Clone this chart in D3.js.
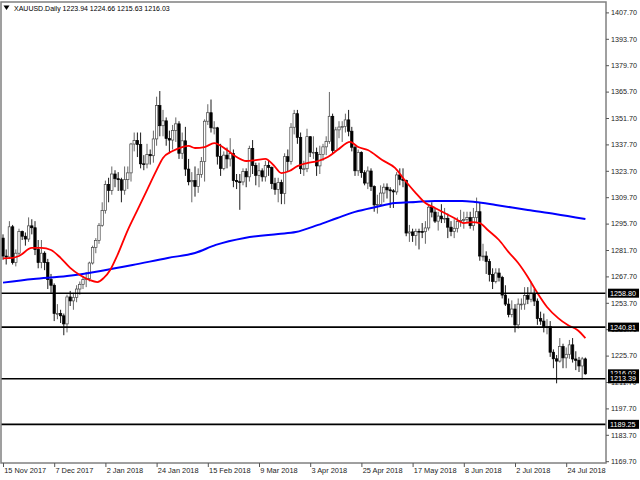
<!DOCTYPE html>
<html><head><meta charset="utf-8">
<script src="https://cdn.jsdelivr.net/npm/d3@7"></script>
<style>body{margin:0;background:#fff}svg{display:block}text{font-family:"Liberation Sans",Arial,sans-serif}</style>
</head><body><svg id="c" width="640" height="480"></svg>
<script>
const symbolTitle = "XAUUSD.Daily";
const lastBar = [1223.94, 1224.66, 1215.63, 1216.03];
const tickIdx = [0,16,32,48,64,80,96,112,128,144,160,176];
const tickLabels = ["15 Nov 2017","7 Dec 2017","2 Jan 2018","24 Jan 2018","15 Feb 2018","9 Mar 2018","3 Apr 2018","25 Apr 2018","17 May 2018","8 Jun 2018","2 Jul 2018","24 Jul 2018"];
const priceTicks = [1407.70,1393.70,1379.70,1365.70,1351.70,1337.70,1323.70,1309.70,1295.70,1281.70,1267.70,1253.70,1239.70,1225.70,1211.70,1197.70,1183.70,1169.70];
const levels = [1258.80,1240.81,1213.39,1189.25];
const lastPrice = 1216.03;

const opens = [1288,1278.5,1278,1294,1275,1280,1291.5,1289,1287.5,1294.5,1293.5,1282,1275,1280,1275,1266,1263,1248,1248,1246.8,1242.5,1256.8,1254.7,1256.6,1261,1263.5,1266,1266.5,1274.8,1283,1286.8,1294.8,1302.6,1316.5,1313.3,1322,1319.5,1319,1313.4,1319,1322.6,1337.9,1339.7,1337.6,1327.4,1327.3,1332.3,1331.7,1340.6,1358.3,1347.6,1350.2,1340.8,1340,1345.1,1348.6,1333,1339.6,1324.6,1317.9,1318.6,1315.4,1321.8,1328.6,1350,1354.5,1346.5,1346.5,1331.4,1325,1332,1330,1332.8,1318.5,1317.9,1317.8,1323.3,1320.5,1335.5,1326.5,1321.3,1323.7,1320.5,1326.6,1325.5,1316.9,1313.8,1317.5,1311.6,1331.2,1328.6,1346.8,1354,1341.4,1324.8,1324.8,1341.8,1333.5,1333.5,1326.3,1332.3,1336.4,1339.2,1352.6,1334.5,1345.4,1346.9,1347.2,1350.7,1344.7,1336.2,1323.7,1333.5,1322.7,1317.2,1323.6,1315.3,1305.6,1305.9,1311.9,1315,1313.6,1313.1,1312.5,1321.5,1319.2,1318.6,1290.7,1291.3,1289.4,1291.6,1291.5,1291.4,1293.4,1304.4,1301.8,1297,1299.7,1298.2,1298.5,1293.8,1291.5,1293.2,1296.9,1297.4,1297.9,1298.9,1294.6,1298.9,1302,1278.5,1278.5,1275.6,1268.7,1265,1269.5,1267.2,1257.8,1253,1247.5,1250.4,1242,1253,1253,1257.5,1255.6,1258.6,1254.6,1245.3,1244,1240.7,1241.2,1227.5,1224,1222.8,1230.5,1224.5,1226.4,1231.4,1223.9,1223.2,1220.2,1223.94];
const highs = [1290,1282,1297,1295,1282,1293,1292,1291,1299,1298,1297,1287,1287,1281,1277,1269,1264,1253,1250,1248,1258,1260,1259,1263,1265,1268,1270,1275.5,1284,1288,1296,1307,1318.5,1320,1326,1324,1323,1320,1326,1326,1338.5,1344,1344,1344,1332,1338,1335,1345,1363,1366,1356,1352,1345,1348,1352,1350,1344,1347,1330,1323,1326,1325,1331,1351,1359,1361.5,1350,1347,1338,1334,1336,1341,1335,1322,1322,1325,1325,1337,1340,1328,1328,1325,1329,1329,1326,1320,1320,1319,1333,1335,1349,1356,1356,1344,1329,1346,1342,1342,1336,1337,1338,1342,1365.5,1354,1347,1350,1350,1354,1356,1347,1337,1335,1334,1324,1326,1325,1316,1311,1316,1317,1317,1315,1314,1323,1325,1325,1319,1295,1293,1293,1293,1296,1297,1306,1307,1304,1302,1306,1304,1301,1297,1298,1299,1303,1302,1302,1302,1304,1309.5,1307,1285,1281,1277,1272,1272,1272,1268,1263,1256,1255,1253,1256,1256,1262,1262,1265,1261,1256,1249,1248,1245,1244,1229,1226,1235,1232,1230,1234,1235,1228,1225,1225,1224.66];
const lows = [1276.5,1274,1277,1274,1273,1279,1287,1284,1286,1290,1279,1272,1272,1271,1261,1259,1244,1245,1243,1236.5,1238,1252,1250,1254,1258,1261,1262,1265,1274,1280,1285,1294,1301,1307,1311,1315,1313,1307,1311,1314,1318,1334,1331,1325,1324,1325,1327,1328,1337,1342,1342,1337,1333,1335,1339,1330,1330,1321,1316,1307,1310,1312,1320,1318,1348,1344,1343,1327,1321,1324,1325,1326,1315,1314,1303,1316,1315,1318,1322,1316,1315,1318,1318,1321,1314,1311,1307,1306,1306,1323,1327,1343,1338,1322,1321,1323,1331,1330,1321,1322,1329,1332,1338,1333,1334,1341,1339,1344,1342,1334,1321,1321,1320,1316,1314,1313,1302,1301,1305,1307,1309,1304,1304,1311,1316,1315,1289,1286,1286,1284,1282,1288,1285,1292,1299,1296,1292,1296,1296,1288,1289,1288,1291,1294,1293,1296,1293,1292,1296,1276,1276,1269,1265,1261,1264,1265,1256,1252,1246,1246,1238,1240,1250,1250,1253,1254,1252,1242,1242,1238,1237,1225,1219,1211,1222,1219,1219,1224,1222,1218,1217,1213,1215.63];
const closes = [1278.5,1278,1294,1275,1280,1291.5,1289,1287.5,1294.5,1293.5,1282,1275,1280,1275,1266,1263,1248,1248,1246.8,1242.5,1256.8,1254.7,1256.6,1261,1263.5,1266,1266.5,1274.8,1283,1286.8,1294.8,1302.6,1316.5,1313.3,1322,1319.5,1319,1313.4,1319,1322.6,1337.9,1339.7,1337.6,1327.4,1327.3,1332.3,1331.7,1340.6,1358.3,1347.6,1350.2,1340.8,1340,1345.1,1348.6,1333,1339.6,1324.6,1317.9,1318.6,1315.4,1321.8,1328.6,1350,1354.5,1346.5,1346.5,1331.4,1325,1332,1330,1332.8,1318.5,1317.9,1317.8,1323.3,1320.5,1335.5,1326.5,1321.3,1323.7,1320.5,1326.6,1325.5,1316.9,1313.8,1317.5,1311.6,1331.2,1328.6,1346.8,1354,1341.4,1324.8,1324.8,1341.8,1333.5,1333.5,1326.3,1332.3,1336.4,1339.2,1352.6,1334.5,1345.4,1346.9,1347.2,1350.7,1344.7,1336.2,1323.7,1333.5,1322.7,1317.2,1323.6,1315.3,1305.6,1305.9,1311.9,1315,1313.6,1313.1,1312.5,1321.5,1319.2,1318.6,1290.7,1291.3,1289.4,1291.6,1291.5,1291.4,1293.4,1304.4,1301.8,1297,1299.7,1298.2,1298.5,1293.8,1291.5,1293.2,1296.9,1297.4,1297.9,1298.9,1294.6,1298.9,1302,1278.5,1278.5,1275.6,1268.7,1265,1269.5,1267.2,1257.8,1253,1247.5,1250.4,1242,1253,1253,1257.5,1255.6,1258.6,1254.6,1245.3,1244,1240.7,1241.2,1227.5,1224,1222.8,1230.5,1224.5,1226.4,1231.4,1223.9,1223.2,1220.2,1223.94,1216.03];

const maFastIdx = [0,3,5,9,12,15,18,21,24,27,29.5,31.5,33.5,35.5,39,42,45,48,50,53,56,58,60,63,66,70,73,76,79,82,84.5,87,89.5,92,95,98.5,101.5,104.5,108.5,111,114,118.5,122.5,125.5,129,132,135,138,141,144,146.5,149,151.5,155,158,161,164,167,170,173.5,176.5,179.5,182];
const maFastVal = [1277.3,1277.5,1278.5,1282.8,1282.8,1281.7,1277.5,1272.2,1268.4,1265.8,1264.7,1266.9,1271.1,1278,1292.3,1302.9,1313.5,1324.1,1330.5,1334.2,1336.3,1336.9,1335.8,1336.3,1338.4,1334.7,1331,1328.9,1329.4,1330,1326.8,1322.5,1323.6,1326.2,1327.8,1328.9,1331,1334.7,1339,1336.3,1334.7,1329.4,1325.2,1318.8,1311.9,1306.6,1304,1301.3,1298.7,1296,1296.5,1296,1292.3,1287,1280.6,1274.8,1267.4,1258.9,1251.5,1245.6,1241.9,1239.3,1235];
const maSlowIdx = [0,9.5,20,30.5,40.5,51.5,60,66.5,75.5,86,91.5,98.5,104.5,110,116.5,122.5,129,135,143.5,147.5,154,164,172.5,182];
const maSlowVal = [1264.4,1266.3,1267.9,1270.6,1273.7,1277.5,1280.1,1284.4,1288.1,1290.2,1291.2,1295,1298.7,1301.9,1304.5,1306.6,1307.2,1307.7,1307.7,1307.2,1305.6,1302.9,1300.8,1298.1];

const svg = d3.select("#c");
const L = 1, R = 606, T = 2, B = 463;
const x = d3.scaleLinear().domain([0, 182]).range([3, 3 + 182 * 3.2]);
const y = d3.scaleLinear().domain([1169.70, 1407.70]).range([461.2, 12.4]);

const plot = svg.append("g");
const bars = d3.range(opens.length);
const bw = 2.4;
plot.selectAll("line.wick").data(bars).join("line")
  .attr("x1", i => x(i)).attr("x2", i => x(i))
  .attr("y1", i => y(highs[i])).attr("y2", i => y(lows[i]))
  .attr("stroke", i => closes[i] >= opens[i] ? "#555" : "#000")
  .attr("stroke-width", 0.9);
plot.selectAll("rect.body").data(bars).join("rect")
  .attr("x", i => x(i) - bw / 2)
  .attr("width", bw)
  .attr("y", i => y(Math.max(opens[i], closes[i])))
  .attr("height", i => Math.max(0.8, Math.abs(y(opens[i]) - y(closes[i]))))
  .attr("fill", i => closes[i] >= opens[i] ? "#fff" : "#000")
  .attr("stroke", i => closes[i] >= opens[i] ? "#444" : "#000")
  .attr("stroke-width", 0.7);

const lineFn = d3.line().x(d => x(d[0])).y(d => y(d[1])).curve(d3.curveMonotoneX);
plot.append("path").datum(maSlowIdx.map((v, k) => [v, maSlowVal[k]]))
  .attr("d", lineFn).attr("fill", "none").attr("stroke", "#0000ff").attr("stroke-width", 2);
plot.append("path").datum(maFastIdx.map((v, k) => [v, maFastVal[k]]))
  .attr("d", lineFn).attr("fill", "none").attr("stroke", "#ff0000").attr("stroke-width", 1.8);

plot.selectAll("line.lvl").data(levels).join("line")
  .attr("x1", L).attr("x2", R).attr("y1", d => y(d)).attr("y2", d => y(d))
  .attr("stroke", "#000").attr("stroke-width", 1.6);

svg.append("rect").attr("x", L).attr("y", T).attr("width", R - L).attr("height", B - T)
  .attr("fill", "none").attr("stroke", "#808080").attr("stroke-width", 1.5);

const yAxis = d3.axisRight(y).tickValues(priceTicks).tickSize(3).tickPadding(2)
  .tickFormat(d3.format(".2f"));
const ga = svg.append("g").attr("transform", `translate(${R},0)`).call(yAxis);
ga.select(".domain").remove();
ga.selectAll("line").attr("stroke", "#555");
ga.selectAll("text").attr("font-size", 7.2).attr("fill", "#222").attr("font-family", '"Liberation Sans", Arial, sans-serif');

const xAxis = d3.axisBottom(x).tickValues(tickIdx).tickSize(4).tickFormat((d, k) => tickLabels[k]);
const gx = svg.append("g").attr("transform", `translate(0,${B})`).call(xAxis);
gx.select(".domain").remove();
gx.selectAll("line").attr("stroke", "#555");
gx.selectAll("text").attr("text-anchor", "start").attr("dx", "0.1em").attr("dy", "0.45em")
  .attr("font-size", 7.4).attr("fill", "#222").attr("font-family", '"Liberation Sans", Arial, sans-serif');

const boxes = [levels[0], levels[1], lastPrice, levels[2], levels[3]];
const gb = svg.append("g");
boxes.forEach(v => {
  gb.append("rect").attr("x", R + 2).attr("y", y(v) - 4.5).attr("width", 31).attr("height", 9).attr("fill", "#000");
  gb.append("text").attr("x", R + 4).attr("y", y(v) + 2.6).attr("fill", "#fff").attr("font-size", 7.2).text(d3.format(".2f")(v));
});

svg.append("path").attr("d", "M3.5,5.5 L9.5,5.5 L6.5,10 Z").attr("fill", "#000");
svg.append("text").attr("x", 14).attr("y", 11).attr("font-size", 7).attr("fill", "#000")
  .text(symbolTitle + "  " + lastBar.map(d3.format(".2f")).join(" "));
</script></body></html>
